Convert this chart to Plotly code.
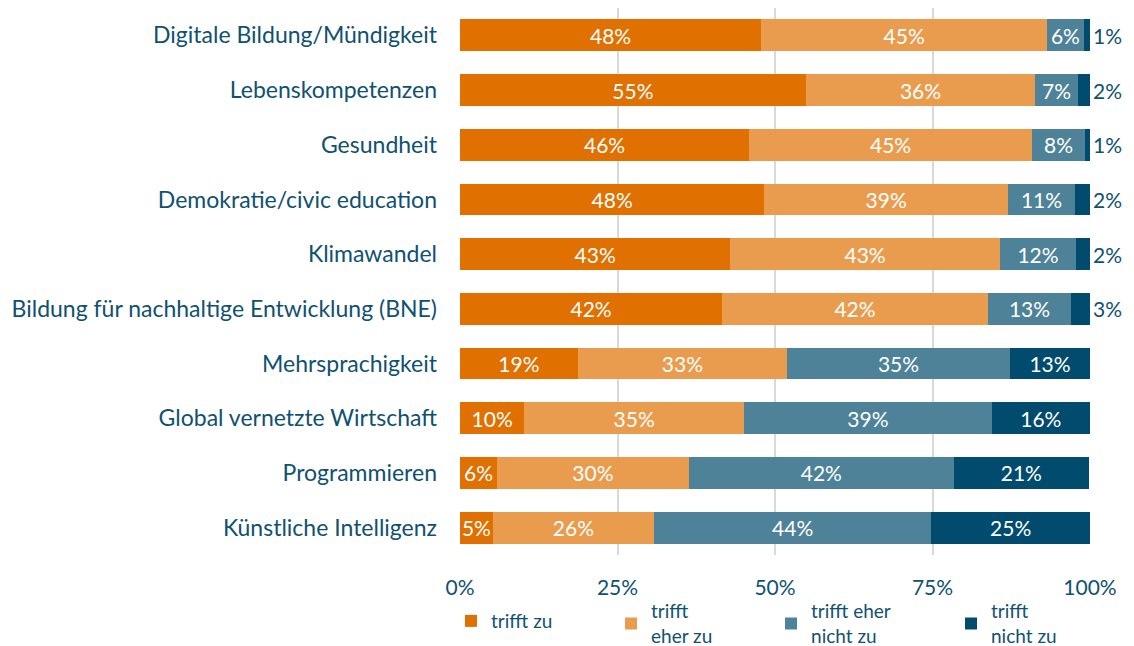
import plotly.graph_objects as go

categories = [
    "Digitale Bildung/Mündigkeit",
    "Lebenskompetenzen",
    "Gesundheit",
    "Demokratie/civic education",
    "Klimawandel",
    "Bildung für nachhaltige Entwicklung (BNE)",
    "Mehrsprachigkeit",
    "Global vernetzte Wirtschaft",
    "Programmieren",
    "Künstliche Intelligenz",
]
series_names = ["trifft zu", "trifft<br>eher zu", "trifft eher<br>nicht zu", "trifft<br>nicht zu"]
trifft_zu = [47.8, 54.9, 45.9, 48.3, 42.9, 41.6, 18.7, 10.2, 5.9, 5.2]
eher_zu = [45.4, 36.4, 44.9, 38.7, 42.8, 42.2, 33.2, 34.9, 30.4, 25.6]
eher_nicht = [5.8, 6.8, 8.4, 10.6, 12.1, 13.2, 35.4, 39.3, 42.1, 44.0]
nicht_zu = [1.0, 1.9, 0.8, 2.4, 2.2, 3.0, 12.7, 15.6, 21.4, 25.2]
tick_vals = [0, 25, 50, 75, 100]
tick_text = ["0%", "25%", "50%", "75%", "100%"]

colors = ["#E07000", "#EA9C4E", "#4E8299", "#004B6E"]
text_color = "#0F5170"
font_family = "Lato"

legend_ids = ["legend", "legend2", "legend3", "legend4"]
legend_x = [-0.0143, 0.2397, 0.4937, 0.7794]
legend_y = [-0.0860, -0.0680, -0.0680, -0.0680]

fig = go.Figure()
all_series = [trifft_zu, eher_zu, eher_nicht, nicht_zu]
for i, (name, vals) in enumerate(zip(series_names, all_series)):
    labels = [f"{round(v)}%" for v in vals]
    if i == 3:
        positions = ["outside" if v < 5 else "inside" for v in vals]
    else:
        positions = ["inside"] * len(vals)
    fig.add_trace(go.Bar(
        name=name,
        y=categories,
        x=vals,
        orientation="h",
        marker=dict(color=colors[i], line=dict(width=0)),
        text=labels,
        textposition=positions,
        insidetextanchor="middle",
        insidetextfont=dict(color="white", size=21, family=font_family),
        outsidetextfont=dict(color=text_color, size=21, family=font_family),
        textangle=0,
        cliponaxis=False,
        constraintext="none",
        hoverinfo="skip",
        showlegend=True,
        legend=legend_ids[i],
    ))

legend_common = dict(
    orientation="h",
    xanchor="left",
    yanchor="top",
    font=dict(size=19, color=text_color, family=font_family),
    itemclick=False,
    itemdoubleclick=False,
    bgcolor="rgba(0,0,0,0)",
    visible=True,
)
legend_layout = {}
for lid, lx, ly in zip(legend_ids, legend_x, legend_y):
    legend_layout[lid] = dict(x=lx, y=ly, **legend_common)

fig.update_layout(
    showlegend=True,
    barmode="stack",
    bargap=0.42,
    width=1126,
    height=638,
    margin=dict(l=452, r=44, t=0, b=91, autoexpand=False),
    plot_bgcolor="white",
    paper_bgcolor="white",
    font=dict(family=font_family, color=text_color, size=20),
    xaxis=dict(
        range=[0, 100.001],
        tickvals=tick_vals,
        ticktext=tick_text,
        showgrid=True,
        gridcolor="#D9D9D9",
        gridwidth=2,
        zeroline=False,
        showline=False,
        tickfont=dict(size=21, color=text_color),
        ticklabelstandoff=18,
        fixedrange=True,
    ),
    yaxis=dict(
        autorange="reversed",
        tickfont=dict(size=23, color=text_color),
        ticklabelstandoff=22,
        showgrid=False,
        fixedrange=True,
    ),
    **legend_layout,
)

fig.write_html("out.html")
